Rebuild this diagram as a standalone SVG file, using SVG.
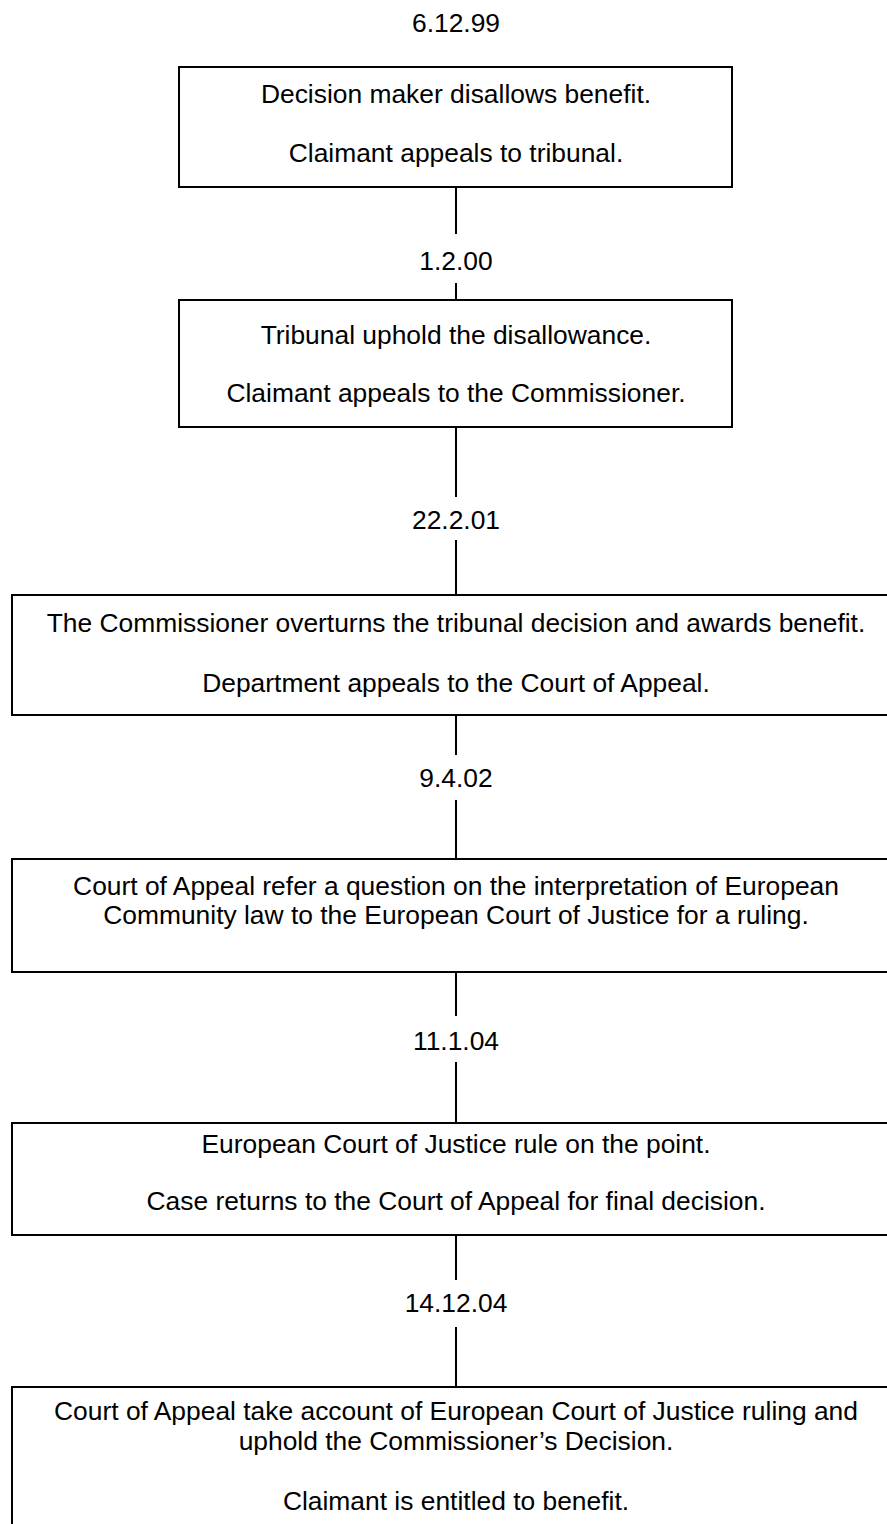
<svg xmlns="http://www.w3.org/2000/svg" width="887" height="1524" viewBox="0 0 887 1524">
<style>
.box{fill:#fff;stroke:#000;stroke-width:2}
.t{font-family:"Liberation Sans",Arial,sans-serif;font-size:26.4px;fill:#000;text-anchor:middle}
.c{stroke:#000;stroke-width:2;fill:none}
</style>
<rect width="887" height="1524" fill="#fff"/>
<g id="connectors">
<line class="c" x1="456" y1="187" x2="456" y2="234"/>
<line class="c" x1="456" y1="283" x2="456" y2="300"/>
<line class="c" x1="456" y1="427" x2="456" y2="497"/>
<line class="c" x1="456" y1="540" x2="456" y2="595"/>
<line class="c" x1="456" y1="715" x2="456" y2="755"/>
<line class="c" x1="456" y1="800" x2="456" y2="859"/>
<line class="c" x1="456" y1="972" x2="456" y2="1016"/>
<line class="c" x1="456" y1="1062" x2="456" y2="1123"/>
<line class="c" x1="456" y1="1235" x2="456" y2="1280"/>
<line class="c" x1="456" y1="1327" x2="456" y2="1387"/>
</g>
<g id="dates">
<text class="t" x="456" y="32">6.12.99</text>
<text class="t" x="456" y="270">1.2.00</text>
<text class="t" x="456" y="529">22.2.01</text>
<text class="t" x="456" y="787">9.4.02</text>
<text class="t" x="456" y="1050">11.1.04</text>
<text class="t" x="456" y="1312">14.12.04</text>
</g>
<g id="n1">
<rect class="box" x="179" y="67" width="553" height="120"/>
<text class="t" x="456" y="103">Decision maker disallows benefit.</text>
<text class="t" x="456" y="162">Claimant appeals to tribunal.</text>
</g>
<g id="n2">
<rect class="box" x="179" y="300" width="553" height="127"/>
<text class="t" x="456" y="344">Tribunal uphold the disallowance.</text>
<text class="t" x="456" y="402">Claimant appeals to the Commissioner.</text>
</g>
<g id="n3">
<rect class="box" x="12" y="595" width="900" height="120"/>
<text class="t" x="456" y="632">The Commissioner overturns the tribunal decision and awards benefit.</text>
<text class="t" x="456" y="692">Department appeals to the Court of Appeal.</text>
</g>
<g id="n4">
<rect class="box" x="12" y="859" width="900" height="113"/>
<text class="t" x="456" y="895">Court of Appeal refer a question on the interpretation of European</text>
<text class="t" x="456" y="924">Community law to the European Court of Justice for a ruling.</text>
</g>
<g id="n5">
<rect class="box" x="12" y="1123" width="900" height="112"/>
<text class="t" x="456" y="1153">European Court of Justice rule on the point.</text>
<text class="t" x="456" y="1210">Case returns to the Court of Appeal for final decision.</text>
</g>
<g id="n6">
<rect class="box" x="12" y="1387" width="900" height="160"/>
<text class="t" x="456" y="1420">Court of Appeal take account of European Court of Justice ruling and</text>
<text class="t" x="456" y="1450">uphold the Commissioner’s Decision.</text>
<text class="t" x="456" y="1510">Claimant is entitled to benefit.</text>
</g>
</svg>
